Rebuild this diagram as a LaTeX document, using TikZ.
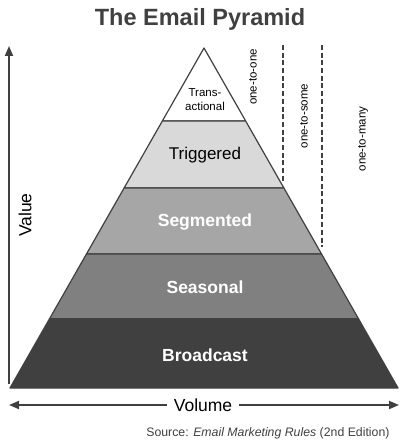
\documentclass[tikz,border=0pt]{standalone}
\usepackage{fontspec}
\setmainfont{Liberation Sans}
\usetikzlibrary{calc,arrows.meta}
\definecolor{ink}{HTML}{404040}
\definecolor{lvlA}{HTML}{FFFFFF}
\definecolor{lvlB}{HTML}{D9D9D9}
\definecolor{lvlC}{HTML}{A6A6A6}
\definecolor{lvlD}{HTML}{808080}
\definecolor{lvlE}{HTML}{404040}
\begin{document}
\begin{tikzpicture}[x=1pt,y=-1pt,
  layer/.style={draw=ink,line width=1.2pt,line join=round},
  darklbl/.style={text=black,font=\fontsize{17}{19}\selectfont,align=center},
  lightlbl/.style={text=white,font=\bfseries\fontsize{17.5}{19}\selectfont},
  sidelbl/.style={rotate=90,text=black,font=\fontsize{11.5}{13}\selectfont},
  divider/.style={draw=ink,line width=1.2pt,dash pattern=on 5pt off 2.7pt},
  axis/.style={draw=ink,line width=1.8pt,-{Triangle[length=10pt,width=8pt]}}]
\useasboundingbox (0,0) rectangle (400,446);
\coordinate (apex) at (204,48);
\coordinate (bl) at (10,388);
\coordinate (br) at (398,388);
\foreach \n/\t in {1/0.2147,2/0.4118,3/0.6059,4/0.797}{
  \coordinate (l\n) at ($(apex)!\t!(bl)$);
  \coordinate (r\n) at ($(apex)!\t!(br)$);
}
\path[layer,fill=lvlA] (apex) -- (l1) -- (r1) -- cycle;
\path[layer,fill=lvlB] (l1) -- (l2) -- (r2) -- (r1) -- cycle;
\path[layer,fill=lvlC] (l2) -- (l3) -- (r3) -- (r2) -- cycle;
\path[layer,fill=lvlD] (l3) -- (l4) -- (r4) -- (r3) -- cycle;
\path[fill=lvlE,draw=lvlE,line width=1.2pt,line join=round] (l4) -- (bl) -- (br) -- (r4) -- cycle;
\draw[ink,line width=1.2pt] (l4) -- (r4);
% labels
\node[text=black,font=\fontsize{11.5}{14}\selectfont,align=center] (trans) at (205,100) {Trans-\\actional};
\node[darklbl] (trig) at (205,155) {Triggered};
\node[lightlbl] (seg) at (205,222) {Segmented};
\node[lightlbl] (sea) at (205,287) {Seasonal};
\node[lightlbl] (bro) at (205,355) {Broadcast};
% title
\node[text=ink,font=\bfseries\fontsize{23.5}{26}\selectfont] (title) at (200,19) {The Email Pyramid};
% dividers
\coordinate (d1t) at (283,45);
\coordinate (d1b) at (283,181);
\coordinate (d2t) at (322,45);
\coordinate (d2b) at (322,247);
\draw[divider] (d1t) -- (d1b);
\draw[divider] (d2t) -- (d2b);
\node[sidelbl] (o1) at (253,77) {one-to-one};
\node[sidelbl] (o2) at (304,116) {one-to-some};
\node[sidelbl] (o3) at (363,139) {one-to-many};
% value axis
\coordinate (vb) at (9,384);
\coordinate (vt) at (9,46);
\draw[axis] (vb) -- (vt);
\node[rotate=90,text=black,font=\fontsize{17.5}{19}\selectfont] (value) at (25,215) {Value};
% volume axis
\node[text=black,font=\fontsize{17.5}{19}\selectfont,inner xsep=7pt] (vol) at (203,405) {Volume};
\coordinate (hl) at (9,405);
\coordinate (hr) at (399,405);
\draw[axis] (vol.west) -- (hl);
\draw[axis] (vol.east) -- (hr);
% source
\node[anchor=east,text=ink,font=\fontsize{12.3}{14}\selectfont] (src) at (393,433) {Source: \textit{Email Marketing Rules} (2nd Edition)};
\end{tikzpicture}
\end{document}
